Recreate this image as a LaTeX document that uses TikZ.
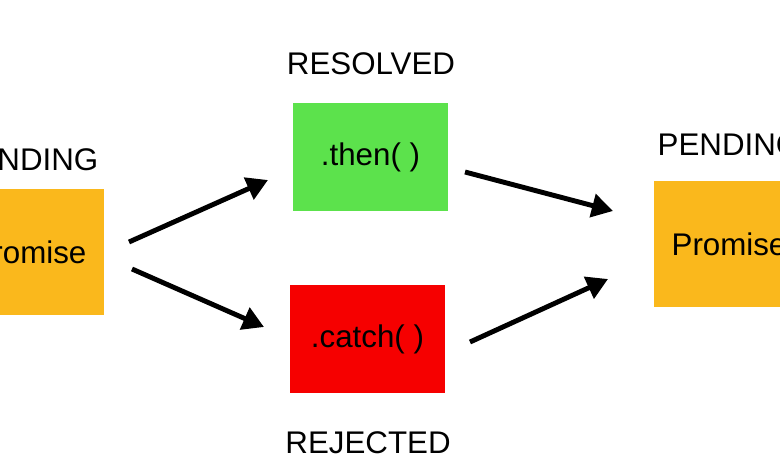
\documentclass[tikz,border=0pt]{standalone}
\usepackage{fontspec}
\setmainfont{Liberation Sans}
\usetikzlibrary{arrows.meta}
\definecolor{promcol}{RGB}{250,184,28}
\definecolor{thencol}{RGB}{92,226,76}
\definecolor{catchcol}{RGB}{246,0,0}
\begin{document}
\begin{tikzpicture}[x=0.01cm,y=-0.01cm,
  box/.style={draw=none,minimum width=1.55cm,minimum height=1.08cm,inner sep=0pt,font=\fontsize{8.9}{10}\selectfont},
  pbox/.style={box,fill=promcol,minimum width=1.5cm,minimum height=1.25cm},
  lbl/.style={inner sep=0pt,font=\fontsize{8.9}{10}\selectfont},
  arr/.style={line width=1.4pt,-{Triangle[length=6pt,width=6.6pt]}}]
\useasboundingbox (0,0) rectangle (780,470);
\clip (0,0) rectangle (780,470);
\fill[white] (0,0) rectangle (780,470);
\node[pbox] (p1) at (29,252) {Promise};
\node[pbox,minimum height=1.26cm] (p2) at (729,244) {Promise};
\node[box,fill=thencol] (then) at (370.5,157) {.then( )};
\node[box,fill=catchcol] (catch) at (367.5,339) {.catch( )};
\node[lbl] (l1) at (27,160) {PENDING};
\node[lbl] (l2) at (729,145) {PENDING};
\node[lbl] (l3) at (371,64) {RESOLVED};
\node[lbl] (l4) at (368,443) {REJECTED};
\coordinate (a1s) at (129,242);
\coordinate (a1e) at (268,180);
\coordinate (a2s) at (132,269);
\coordinate (a2e) at (264,327);
\coordinate (a3s) at (465,172);
\coordinate (a3e) at (613,211);
\coordinate (a4s) at (470,342);
\coordinate (a4e) at (608,279);
\draw[arr] (a1s) -- (a1e);
\draw[arr] (a2s) -- (a2e);
\draw[arr] (a3s) -- (a3e);
\draw[arr] (a4s) -- (a4e);
\end{tikzpicture}
\end{document}
